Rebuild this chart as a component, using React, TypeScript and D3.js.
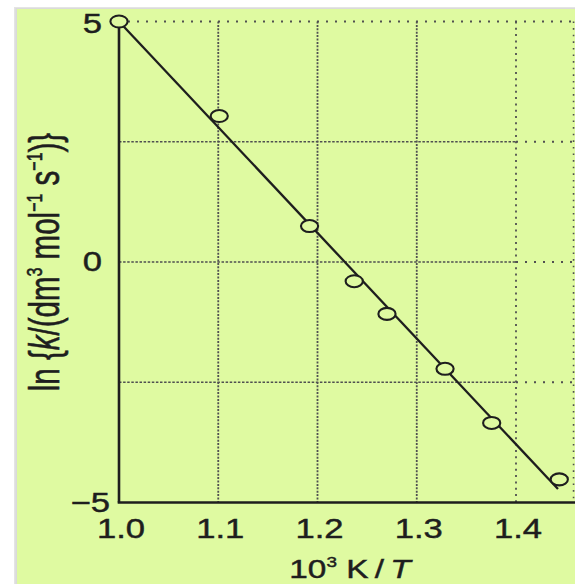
import React from "react";
import * as d3 from "d3";

// ---- data ----
const X_TICKS = [1.0, 1.1, 1.2, 1.3, 1.4];
const X_TICK_LABELS = ["1.0", "1.1", "1.2", "1.3", "1.4"];
const Y_TICKS = [5, 0, -5];
const Y_TICK_LABELS = ["5", "0", "\u22125"];
const X_GRID = [1.1, 1.2, 1.3, 1.4];
const Y_GRID = [2.5, 0, -2.5];
const X_DOMAIN_MAX = 1.458;
const INV_T = [1.0, 1.101, 1.192, 1.237, 1.27, 1.3285, 1.3755, 1.4436];
const LN_K = [5.0, 3.035, 0.747, -0.4, -1.079, -2.22, -3.346, -4.52];
const FIT_X = [1.0, 1.4423];
const FIT_Y = [5.0, -4.72];

const W = 575;
const H = 584;
const BG = "#dffaa1";
const INK = "#1e1e1e";
const GRID = "#505050";
const SX = 1.26;
const FONT = "'Liberation Sans', Arial, Helvetica, sans-serif";

export default function App() {
  const x = d3.scaleLinear().domain([1.0, 1.4]).range([119, 516]);
  const y = d3.scaleLinear().domain([-5, 5]).range([502.5, 21.5]);
  const xL = x(1.0);
  const xR = x(X_DOMAIN_MAX);
  const yT = y(5);
  const yB = y(-5);
  const fit = d3
    .line<number>()
    .x((_, i) => x(FIT_X[i]))
    .y((d) => y(d))(FIT_Y) as string;

  const textStroke = { stroke: INK, strokeWidth: 0.45 };

  return (
    <svg
      width={W}
      height={H}
      style={{ position: "absolute", left: 0, top: 0, display: "block" }}
      fontFamily={FONT}
    >
      <rect x={0} y={0} width={W} height={H} fill="#ffffff" />
      <rect x={14} y={7} width={W} height={H} fill="#e4e4e4" />
      <rect x={15.5} y={8} width={W} height={H} fill="#d4d4d4" opacity={0.6} />
      <rect x={17} y={9} width={W} height={H} fill={BG} />

      {/* grid */}
      {X_GRID.map((v) => (
        <line
          key={"gx" + v}
          x1={x(v)}
          x2={x(v)}
          y1={yT}
          y2={yB}
          stroke={GRID}
          strokeWidth={1.8}
          strokeDasharray={v === 1.4 ? "2,4.3" : "2,1.4"}
        />
      ))}
      <line x1={xR} x2={xR} y1={yT} y2={yB} stroke={GRID} strokeWidth={1.6} strokeDasharray="1.6,5" />
      {Y_GRID.map((v) => (
        <g key={"gy" + v}>
          <line x1={xL} x2={x(1.4)} y1={y(v)} y2={y(v)} stroke={GRID} strokeWidth={1.5} strokeDasharray="2.5,1.6" />
          <line x1={x(1.4)} x2={xR} y1={y(v)} y2={y(v)} stroke={GRID} strokeWidth={1.8} strokeDasharray="2,7" />
        </g>
      ))}
      <line x1={xL} x2={xR} y1={yT} y2={yT} stroke={GRID} strokeWidth={1.8} strokeDasharray="2,7" />

      {/* axes */}
      <line x1={xL} x2={xL} y1={yT} y2={yB} stroke={INK} strokeWidth={2.6} />
      <line x1={xL - 1.3} x2={W} y1={yB} y2={yB} stroke={INK} strokeWidth={2.3} />

      {/* fit line */}
      <path d={fit} fill="none" stroke={INK} strokeWidth={2.3} />

      {/* data markers */}
      {INV_T.map((v, i) => (
        <ellipse
          key={"p" + i}
          cx={x(v)}
          cy={y(LN_K[i])}
          rx={8.6}
          ry={6}
          fill={BG}
          stroke={INK}
          strokeWidth={2.1}
        />
      ))}

      {/* x tick labels */}
      {X_TICKS.map((v, i) => (
        <text
          key={"tx" + v}
          transform={`translate(${x(v) + 2},${yB + 26}) scale(${SX},1)`}
          textAnchor="middle"
          dominantBaseline="central"
          fontSize={27.5}
          fill={INK}
          {...textStroke}
        >
          {X_TICK_LABELS[i]}
        </text>
      ))}

      {/* y tick labels */}
      {Y_TICKS.map((v, i) => (
        <text
          key={"ty" + v}
          transform={`translate(${v === -5 ? 110 : 102},${y(v) + (v === 5 ? 2 : 0)}) scale(${SX},1)`}
          textAnchor="end"
          dominantBaseline="central"
          fontSize={27.5}
          fill={INK}
          {...textStroke}
        >
          {Y_TICK_LABELS[i]}
        </text>
      ))}

      {/* x axis title */}
      <text
        transform={`translate(350,578) scale(${SX},1)`}
        textAnchor="middle"
        fontSize={26.5}
        fill={INK}
        {...textStroke}
      >
        <tspan>10</tspan>
        <tspan fontSize={15} dy={-11}>3</tspan>
        <tspan dy={11}> K</tspan>
        <tspan dx={5}>/</tspan>
        <tspan dx={5} fontStyle="italic">T</tspan>
      </text>

      {/* y axis title */}
      <text
        transform={`translate(59,262) scale(1.42,1) rotate(-90)`}
        textAnchor="middle"
        fontSize={29.5}
        fill={INK}
        {...textStroke}
      >
        <tspan>ln {"{"}</tspan>
        <tspan fontStyle="italic">k</tspan>
        <tspan>/(dm</tspan>
        <tspan fontSize={16} dy={-12}>3</tspan>
        <tspan dy={12}> mol</tspan>
        <tspan fontSize={16} dy={-12}>{"\u22121"}</tspan>
        <tspan dy={12}> s</tspan>
        <tspan fontSize={16} dy={-12}>{"\u22121"}</tspan>
        <tspan dy={12}>{")}"}</tspan>
      </text>
    </svg>
  );
}
